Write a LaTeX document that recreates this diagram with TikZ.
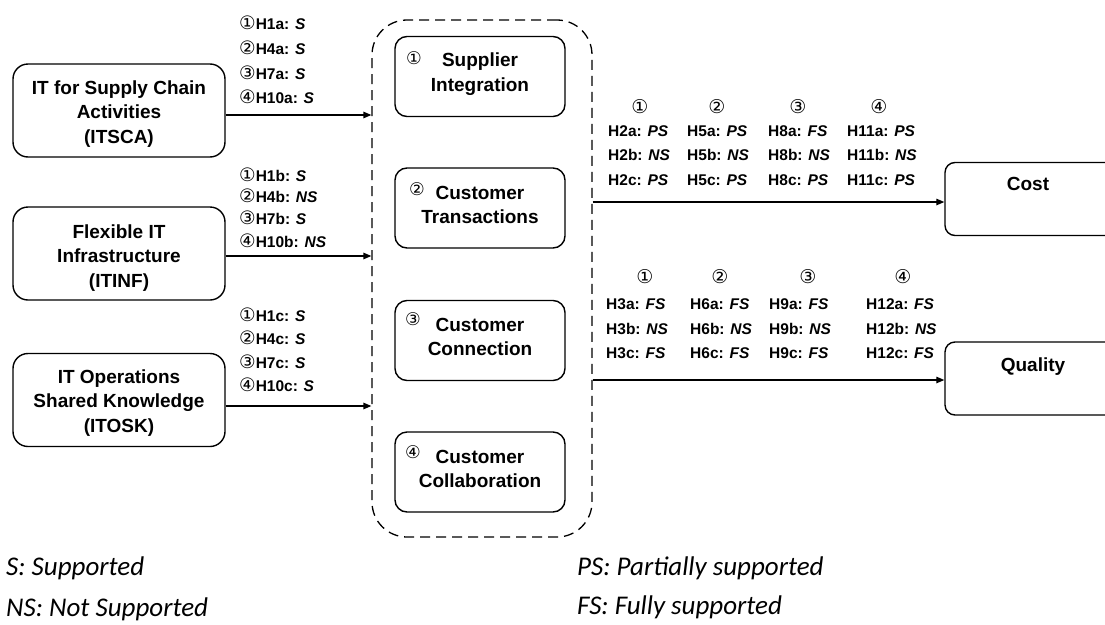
\documentclass[tikz,border=0pt]{standalone}
\usepackage{fontspec}
\setmainfont{Liberation Sans}
\newfontfamily\dejavu{DejaVu Sans}
\newfontfamily\carlito{Carlito}
\usetikzlibrary{arrows.meta,calc}
\newcommand{\cnum}[1]{{\dejavu\mdseries\fontsize{18.5}{18}\selectfont #1}}
\begin{document}
\begin{tikzpicture}[x=1pt,y=-1pt,
  lbox/.style={draw, line width=1.4pt, rounded corners=15pt, minimum width=212pt, minimum height=93pt, inner sep=0pt},
  ibox/.style={draw, line width=1.4pt, rounded corners=12pt, minimum width=170pt, minimum height=80pt, inner sep=0pt},
  obox/.style={draw, line width=1.4pt, rounded corners=10pt, minimum width=175pt, minimum height=73pt, inner sep=0pt},
  btxt/.style={align=center, inner sep=0pt, font=\fontsize{19}{24.5}\selectfont\bfseries},
  grpbox/.style={draw, line width=1.3pt, dash pattern=on 10pt off 6pt, rounded corners=35pt, minimum width=220pt, minimum height=517pt, inner sep=0pt},
  cnin/.style={inner sep=0pt, font=\dejavu\fontsize{17.5}{18}\selectfont},
  cn/.style={inner sep=0pt, font=\dejavu\fontsize{19}{20}\selectfont},
  hyp/.style={anchor=west, inner sep=0pt, font=\fontsize{15.5}{18}\selectfont\bfseries},
  leg/.style={anchor=base west, inner sep=0pt, font=\carlito\itshape\fontsize{27}{30}\selectfont},
  arr/.style={line width=1.3pt, -{Triangle[length=8pt,width=6.5pt]}}
]
\useasboundingbox (0,0) rectangle (1105,624);
\clip (0,0) rectangle (1105,624);

% left boxes
\node[lbox] (itsca) at (119,110.5) {};
\node[btxt] (itscatxt) at (119,114) {IT for Supply Chain\\Activities\\(ITSCA)};
\node[lbox] (itinf) at (119,253.5) {};
\node[btxt] (itinftxt) at (119,258) {Flexible IT\\Infrastructure\\(ITINF)};
\node[lbox] (itosk) at (119,400) {};
\node[btxt] (itosktxt) at (119,403) {IT Operations\\Shared Knowledge\\(ITOSK)};

% container
\node[grpbox] (grp) at (482,278.5) {};

% inner boxes
\node[ibox] (sup) at (480,76.5) {};
\node[btxt] (suptxt) at (480,74) {Supplier\\Integration};
\node[cnin] (supn) at (414,58) {①};
\node[ibox] (ctr) at (480,208) {};
\node[btxt] (ctrtxt) at (480,205) {Customer\\Transactions};
\node[cnin] (ctrn) at (417,189) {②};
\node[ibox] (ccn) at (480,340.5) {};
\node[btxt] (ccntxt) at (480,337) {Customer\\Connection};
\node[cnin] (ccnn) at (413,319) {③};
\node[ibox] (ccl) at (480,472) {};
\node[btxt] (ccltxt) at (480,469) {Customer\\Collaboration};
\node[cnin] (ccln) at (413,452) {④};

% outcome boxes
\node[obox] (cost) at (1032.5,199) {};
\node[btxt] (costtxt) at (1028,184) {Cost};
\node[obox] (qual) at (1032.5,378.5) {};
\node[btxt] (qualtxt) at (1033,367) {Quality};

% input arrows
\coordinate (a1) at ([yshift=-4.5pt]itsca.east);
\coordinate (a2) at ([yshift=-2.5pt]itinf.east);
\coordinate (a3) at ([yshift=-6pt]itosk.east);
\draw[arr] (a1) -- (a1 -| grp.west);
\draw[arr] (a2) -- (a2 -| grp.west);
\draw[arr] (a3) -- (a3 -| grp.west);

% output arrows
\coordinate (c1) at ([yshift=-3pt]cost.west);
\coordinate (q1) at ([yshift=-1.5pt]qual.west);
\draw[arr] (c1 -| grp.east) -- (c1);
\draw[arr] (q1 -| grp.east) -- (q1);

% hypothesis labels (inputs)
\node[hyp] (h1a) at (239,23) {\cnum{①}H1a: \textit{S}};
\node[hyp] (h4a) at (239,48) {\cnum{②}H4a: \textit{S}};
\node[hyp] (h7a) at (239,73) {\cnum{③}H7a: \textit{S}};
\node[hyp] (h10a) at (239,97) {\cnum{④}H10a: \textit{S}};

\node[hyp] (h1b) at (239,175) {\cnum{①}H1b: \textit{S}};
\node[hyp] (h4b) at (239,196) {\cnum{②}H4b: \textit{NS}};
\node[hyp] (h7b) at (239,218) {\cnum{③}H7b: \textit{S}};
\node[hyp] (h10b) at (239,241) {\cnum{④}H10b: \textit{NS}};

\node[hyp] (h1c) at (239,315) {\cnum{①}H1c: \textit{S}};
\node[hyp] (h4c) at (239,338) {\cnum{②}H4c: \textit{S}};
\node[hyp] (h7c) at (239,362) {\cnum{③}H7c: \textit{S}};
\node[hyp] (h10c) at (239,385) {\cnum{④}H10c: \textit{S}};

% cost labels
\node[cn] (cc1) at (640,107) {①};
\node[cn] (cc2) at (717,107) {②};
\node[cn] (cc3) at (798,107) {③};
\node[cn] (cc4) at (879,107) {④};
\node[hyp] (h2a) at (608,131) {H2a: \textit{PS}};
\node[hyp] (h2b) at (608,155) {H2b: \textit{NS}};
\node[hyp] (h2c) at (608,180) {H2c: \textit{PS}};
\node[hyp] (h5a) at (687,131) {H5a: \textit{PS}};
\node[hyp] (h5b) at (687,155) {H5b: \textit{NS}};
\node[hyp] (h5c) at (687,180) {H5c: \textit{PS}};
\node[hyp] (h8a) at (768,131) {H8a: \textit{FS}};
\node[hyp] (h8b) at (768,155) {H8b: \textit{NS}};
\node[hyp] (h8c) at (768,180) {H8c: \textit{PS}};
\node[hyp] (h11a) at (847,131) {H11a: \textit{PS}};
\node[hyp] (h11b) at (847,155) {H11b: \textit{NS}};
\node[hyp] (h11c) at (847,180) {H11c: \textit{PS}};

% quality labels
\node[cn] (qc1) at (645,277) {①};
\node[cn] (qc2) at (720,277) {②};
\node[cn] (qc3) at (808,277) {③};
\node[cn] (qc4) at (903,277) {④};
\node[hyp] (h3a) at (606,304) {H3a: \textit{FS}};
\node[hyp] (h3b) at (606,329) {H3b: \textit{NS}};
\node[hyp] (h3c) at (606,353) {H3c: \textit{FS}};
\node[hyp] (h6a) at (690,304) {H6a: \textit{FS}};
\node[hyp] (h6b) at (690,329) {H6b: \textit{NS}};
\node[hyp] (h6c) at (690,353) {H6c: \textit{FS}};
\node[hyp] (h9a) at (769,304) {H9a: \textit{FS}};
\node[hyp] (h9b) at (769,329) {H9b: \textit{NS}};
\node[hyp] (h9c) at (769,353) {H9c: \textit{FS}};
\node[hyp] (h12a) at (866,304) {H12a: \textit{FS}};
\node[hyp] (h12b) at (866,329) {H12b: \textit{NS}};
\node[hyp] (h12c) at (866,353) {H12c: \textit{FS}};

% legend
\node[leg] (ls) at (6,575) {S: Supported};
\node[leg] (lns) at (6,616) {NS: Not Supported};
\node[leg] (lps) at (577,575) {PS: Partially supported};
\node[leg] (lfs) at (577,614) {FS: Fully supported};
\end{tikzpicture}
\end{document}
